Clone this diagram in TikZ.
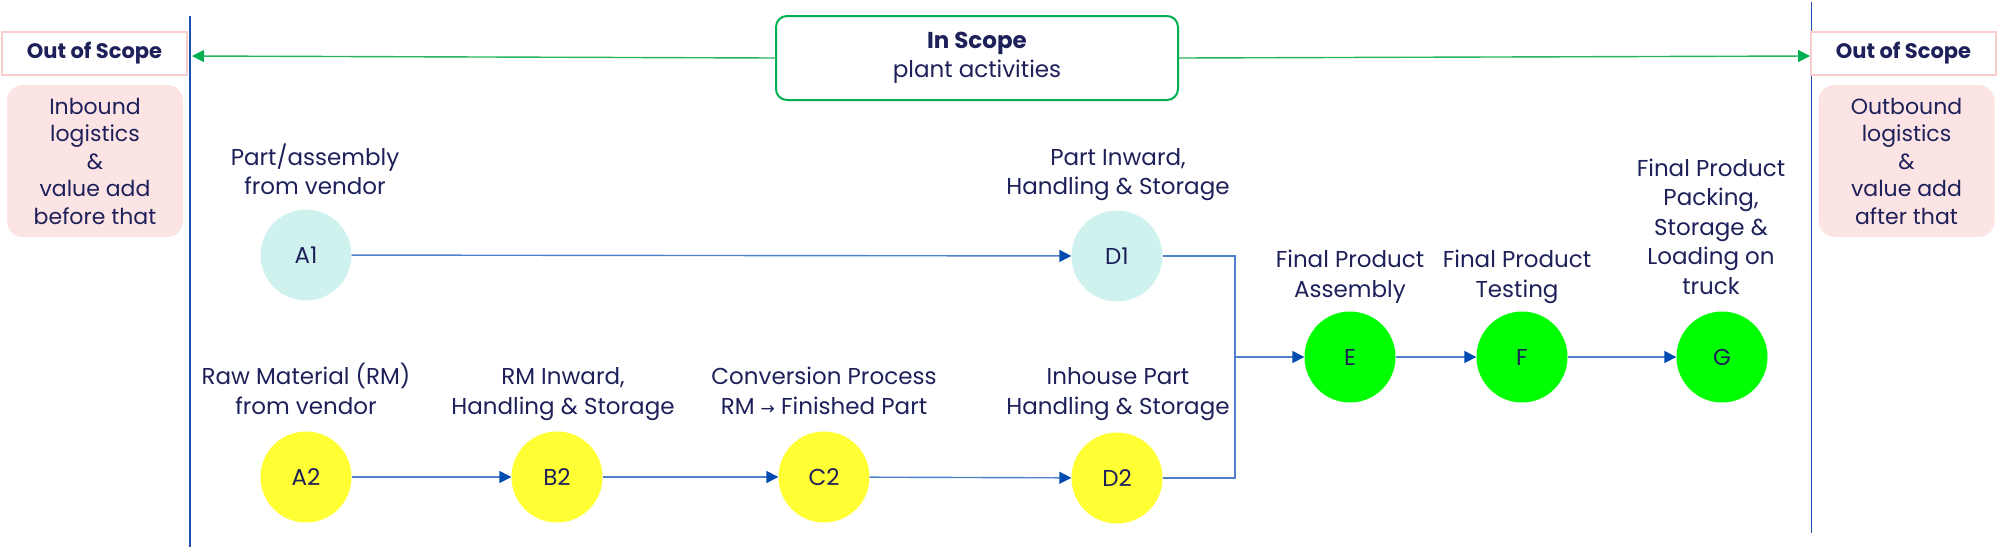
\documentclass[tikz,border=0pt]{standalone}
\usepackage{fontspec}
\setmainfont{Poppins}
\newfontfamily\symfont{DejaVu Sans}
\usetikzlibrary{arrows.meta}
\definecolor{txt}{RGB}{30,32,90}
\definecolor{conn}{RGB}{80,128,205}
\definecolor{tip}{RGB}{0,75,175}
\definecolor{vline}{RGB}{30,80,180}
\definecolor{cyanfill}{RGB}{208,242,238}
\definecolor{yel}{RGB}{255,255,51}
\definecolor{grn}{RGB}{0,255,0}
\definecolor{boxgreen}{RGB}{0,176,80}
\definecolor{arrgreen}{RGB}{40,180,90}
\definecolor{pinkfill}{RGB}{253,228,228}
\definecolor{pinkline}{RGB}{250,205,205}
\begin{document}
\begin{tikzpicture}[x=1pt,y=-1pt,
  every node/.style={text=txt},
  stage/.style={circle, minimum size=91pt, inner sep=0pt, font=\fontsize{23}{26}\selectfont},
  lbl/.style={align=center, anchor=base, inner sep=0pt, font=\fontsize{23}{29.5}\selectfont},
  flow/.style={draw=conn, line width=1.4pt, -{Triangle[length=12pt,width=12pt,color=tip]}},
  plain/.style={draw=conn, line width=1.4pt},
  garrow/.style={draw=arrgreen, line width=1.4pt, -{Triangle[length=12pt,width=12pt,color=boxgreen]}},
  vl/.style={draw=vline, line width=1.5pt},
  oosbox/.style={rectangle, draw=pinkline, fill=white, line width=1.5pt, minimum width=185pt, minimum height=43pt, inner sep=0pt, font=\fontsize{21}{25}\selectfont\bfseries},
  pinkbox/.style={rectangle, rounded corners=16pt, fill=pinkfill, minimum width=176pt, minimum height=152pt, inner sep=0pt, align=center, font=\fontsize{22}{27.5}\selectfont},
  scopebox/.style={rectangle, rounded corners=11pt, draw=boxgreen, line width=2pt, minimum width=402pt, minimum height=84pt, inner sep=0pt, align=center, font=\fontsize{23}{29}\selectfont}
]
\useasboundingbox (0,0) rectangle (1999,550);

% vertical scope lines
\coordinate (lt) at (190,16);
\coordinate (lb) at (190,547);
\coordinate (rt) at (1811.5,2);
\coordinate (rb) at (1811.5,533);
\draw[vl] (lt) -- (lb);
\draw[vl] (rt) -- (rb);

% out of scope boxes
\node[oosbox] (oosl) at (94.5,53.5) {Out of Scope};
\node[oosbox] (oosr) at (1903.5,53.5) {Out of Scope};
\node[pinkbox] (inb) at (95,161) {Inbound\\logistics\\\&\\value add\\before that};
\node[pinkbox] (outb) at (1906.5,161) {Outbound\\logistics\\\&\\value add\\after that};

% in scope
\node[scopebox] (inscope) at (977,58) {\textbf{In Scope}\\plant activities};
\coordinate (lscope) at (192,56);
\coordinate (rscope) at (1810,56);
\draw[garrow] (inscope.west) -- (lscope);
\draw[garrow] (inscope.east) -- (rscope);

% stages
\node[stage, fill=cyanfill] (A1) at (306,255) {A1};
\node[stage, fill=cyanfill] (D1) at (1117,256) {D1};
\node[stage, fill=yel] (A2) at (306,477) {A2};
\node[stage, fill=yel] (B2) at (557,477) {B2};
\node[stage, fill=yel] (C2) at (824,477) {C2};
\node[stage, fill=yel] (D2) at (1117,478) {D2};
\node[stage, fill=grn] (E) at (1350,357) {E};
\node[stage, fill=grn] (F) at (1522,357) {F};
\node[stage, fill=grn] (G) at (1722,357) {G};

% labels (anchor = baseline of last line)
\node[lbl] (lA1) at (315,194.5) {Part/assembly\\from vendor};
\node[lbl] (lD1) at (1118,194.5) {Part Inward,\\Handling \& Storage};
\node[lbl] (lA2) at (306,414) {Raw Material (RM)\\from vendor};
\node[lbl] (lB2) at (563,414) {RM Inward,\\Handling \& Storage};
\node[lbl] (lC2) at (824,414) {Conversion Process\\RM {\symfont\fontsize{17}{17}\selectfont →} Finished Part};
\node[lbl] (lD2) at (1118,414) {Inhouse Part\\Handling \& Storage};
\node[lbl] (lE) at (1350,297) {Final Product\\Assembly};
\node[lbl] (lF) at (1517,297) {Final Product\\Testing};
\node[lbl] (lG) at (1711,294) {Final Product\\Packing,\\Storage \&\\Loading on\\truck};

% connectors
\coordinate (j) at (1235,357);
\draw[flow] (A1) -- (D1);
\draw[flow] (A2) -- (B2);
\draw[flow] (B2) -- (C2);
\draw[flow] (C2) -- (D2);
\draw[plain] (D1.east) -| (j);
\draw[plain] (D2.east) -| (j);
\draw[flow] (j) -- (E);
\draw[flow] (E) -- (F);
\draw[flow] (F) -- (G);
\end{tikzpicture}
\end{document}
